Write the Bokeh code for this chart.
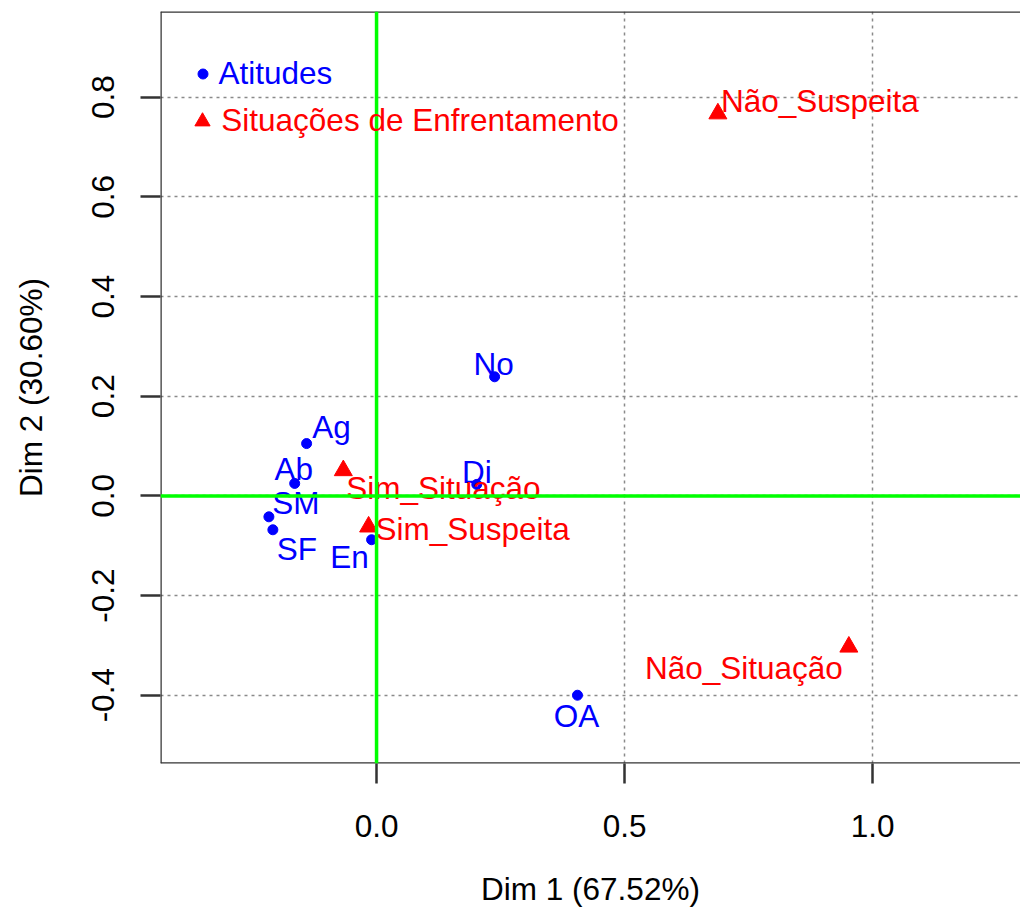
from bokeh.plotting import figure
from bokeh.models import (ColumnDataSource, Range1d, FixedTicker, PrintfTickFormatter, Span,
                          Legend, LegendItem)
from bokeh.core.properties import value
from bokeh.embed import file_html
from bokeh.resources import INLINE

# ---- data ----
att_labels = ["Ab", "Ag", "Di", "En", "No", "OA", "SF", "SM"]
att_dim1 = [-0.165, -0.141, 0.202, -0.010, 0.238, 0.405, -0.209, -0.217]
att_dim2 = [0.025, 0.105, 0.023, -0.088, 0.239, -0.400, -0.068, -0.042]

sit_labels = ["Não_Situação", "Não_Suspeita", "Sim_Situação", "Sim_Suspeita"]
sit_dim1 = [0.952, 0.688, -0.067, -0.016]
sit_dim2 = [-0.303, 0.767, 0.051, -0.062]

x_ticks = [0.0, 0.5, 1.0]
y_ticks = [-0.4, -0.2, 0.0, 0.2, 0.4, 0.6, 0.8]
x_title = "Dim 1 (67.52%)"
y_title = "Dim 2 (30.60%)"
legend_names = ["Atitudes", "Situações de Enfrentamento"]

# ---- label placement (screen px offsets, y down; layout only) ----
att_dx = [-1, 25, 0, -22, -1, -1, 24, 27]
att_dy = [-14, -17, -12, 17, -13, 21, 19, -14]
sit_dx = [-105, 102, 100, 104]
sit_dy = [21, -13, 18, 2]

FONT = "Liberation Sans"
FS = "31.5px"
BLUE = "#0000FF"
RED = "#FF0000"
FRAME = "#333333"

X0, X1 = -0.4355, 1.298
Y0, Y1 = -0.537, 0.972

p = figure(width=1020, height=918, output_backend="svg", toolbar_location=None,
           x_range=Range1d(X0, X1), y_range=Range1d(Y0, Y1),
           min_border_left=160, min_border_right=0, min_border_top=11, min_border_bottom=155)
p.outline_line_color = None
p.background_fill_color = "white"
p.border_fill_color = "white"

for ax in (p.xaxis[0], p.yaxis[0]):
    ax.axis_line_color = None
    ax.major_tick_out = 20
    ax.major_tick_in = 0
    ax.minor_tick_line_color = None
    ax.major_tick_line_color = FRAME
    ax.major_tick_line_width = 2.5
    ax.major_label_text_font = FONT
    ax.major_label_text_font_size = FS
    ax.major_label_text_color = "black"
    ax.axis_label_text_font = FONT
    ax.axis_label_text_font_size = FS
    ax.axis_label_text_font_style = "normal"
    ax.axis_label_text_color = "black"
    ax.formatter = PrintfTickFormatter(format="%.1f")

p.xaxis[0].ticker = FixedTicker(ticks=x_ticks)
p.yaxis[0].ticker = FixedTicker(ticks=y_ticks)
p.xaxis[0].axis_label = x_title
p.yaxis[0].axis_label = y_title
p.xaxis[0].major_label_standoff = 31
p.xaxis[0].axis_label_standoff = 31
p.yaxis[0].major_label_standoff = 26
p.yaxis[0].axis_label_standoff = 41
p.yaxis[0].major_label_orientation = "vertical"

for g in (p.xgrid[0], p.ygrid[0]):
    g.grid_line_color = "#8a8a8a"
    g.grid_line_width = 1.5
    g.grid_line_dash = "3 4"

att_src = ColumnDataSource(dict(x=att_dim1, y=att_dim2, lab=att_labels, dx=att_dx, dy=att_dy))
sit_src = ColumnDataSource(dict(x=sit_dim1, y=sit_dim2, lab=sit_labels, dx=sit_dx, dy=sit_dy))

r_att = p.scatter("x", "y", source=att_src, marker="circle", size=10, color=BLUE)
r_sit = p.scatter("x", "y", source=sit_src, marker="triangle", size=18, color=RED)

p.text("x", "y", text="lab", source=att_src, x_offset="dx", y_offset="dy",
       text_font=value(FONT), text_font_size=value(FS), text_color=BLUE,
       text_align="center", text_baseline="middle")
p.text("x", "y", text="lab", source=sit_src, x_offset="dx", y_offset="dy",
       text_font=value(FONT), text_font_size=value(FS), text_color=RED,
       text_align="center", text_baseline="middle")


def make_legend(name, renderer, color, loc, glyph, standoff):
    lg = Legend(items=[LegendItem(label=value(name), renderers=[renderer])],
                location=loc, border_line_color=None, background_fill_alpha=0,
                padding=0, margin=0, spacing=0, glyph_width=glyph, glyph_height=glyph,
                label_height=glyph, label_standoff=standoff,
                label_text_font=FONT, label_text_font_size=FS, label_text_color=color)
    p.add_layout(lg)


make_legend(legend_names[0], r_att, BLUE, (29.5, 671), 25, 4)
make_legend(legend_names[1], r_sit, RED, (23.3, 623.5), 38, 0)

# box frame on left, top and bottom (right side runs off the page)
p.add_layout(Span(location=X0, dimension="height", line_color=FRAME, line_width=2.5))
p.add_layout(Span(location=Y1, dimension="width", line_color=FRAME, line_width=2.5))
p.add_layout(Span(location=Y0, dimension="width", line_color=FRAME, line_width=2.5))

p.add_layout(Span(location=0, dimension="height", line_color="#00FF00", line_width=3.5))
p.add_layout(Span(location=0, dimension="width", line_color="#00FF00", line_width=3.5))

open("out.html", "w").write(file_html(p, INLINE))
